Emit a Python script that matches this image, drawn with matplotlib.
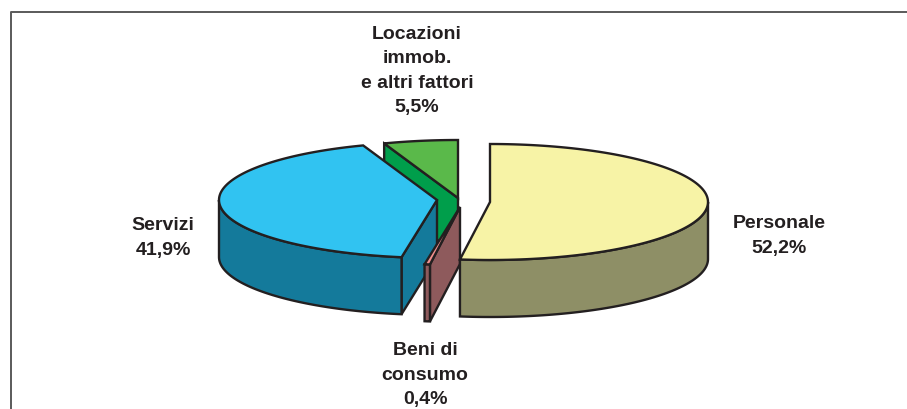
import numpy as np
import matplotlib
matplotlib.use("Agg")
import matplotlib.pyplot as plt
from matplotlib.patches import Polygon

labels = ["Personale", "Beni di\nconsumo", "Servizi", "Locazioni\nimmob.\ne altri fattori"]
values = [52.2, 0.4, 41.9, 5.5]
top_colors = ["#F7F3A6", "#F2908E", "#31C3F1", "#5AB94A"]
side_colors = ["#8E8F66", "#8E5A5C", "#147A9B", "#009E4B"]

# exploded centres of the slices, in pixels
centres = [(490, 202), (460, 207), (437, 200), (458, 198)]
label_pos = [(779, 236), (425, 375), (163, 238), (417, 71)]

rx, ry, depth = 218, 58, 57
line = "#231F20"
lw = 1.7

plt.rcParams["font.family"] = ["Liberation Sans", "DejaVu Sans"]

fig = plt.figure(figsize=(9.07, 4.09), dpi=100)
ax = fig.add_axes([0, 0, 1, 1])
ax.set_xlim(0, 907)
ax.set_ylim(409, 0)
ax.set_axis_off()


def point(c, ang):
    # angle in degrees, clockwise from 12 o'clock
    a = np.radians(ang)
    return c[0] + rx * np.sin(a), c[1] - ry * np.cos(a)


def arc(c, a0, a1):
    return [point(c, a) for a in np.linspace(a0, a1, 120)]


def face(pts, color, z):
    ax.add_patch(Polygon(pts, closed=True, fc=color, ec=line, lw=lw, joinstyle="miter", zorder=z))


# frame
ax.plot([10.5, 10.5, 907], [409, 12, 12], color="#5A5A5A", lw=1.4, zorder=1)

starts = np.cumsum([0] + values[:-1]) * 3.6
ends = np.cumsum(values) * 3.6

# back to front: Locazioni, Servizi, Beni, Personale
for z, i in enumerate([3, 2, 1, 0]):
    c = centres[i]
    a0, a1 = starts[i], ends[i]
    base = 2 + z * 3
    # cut wall along the start edge
    o = point(c, a0)
    if i != 0:
        face([c, o, (o[0], o[1] + depth), (c[0], c[1] + depth)], side_colors[i], base)
    # outer wall, only the front half shows
    s0, s1 = max(a0, 90), min(a1, 270)
    if s1 > s0:
        top = arc(c, s0, s1)
        low = [(x, y + depth) for x, y in top[::-1]]
        face(top + low, side_colors[i], base + 1)
    face([c] + arc(c, a0, a1), top_colors[i], base + 2)

# labels
for i, (x, y) in enumerate(label_pos):
    txt = labels[i] + "\n" + f"{values[i]:.1f}".replace(".", ",") + "%"
    ax.text(x, y, txt, ha="center", va="center", fontsize=14, fontweight="bold",
            color="#231F20", linespacing=1.54, zorder=20)

fig.savefig("out.png", dpi=100)
